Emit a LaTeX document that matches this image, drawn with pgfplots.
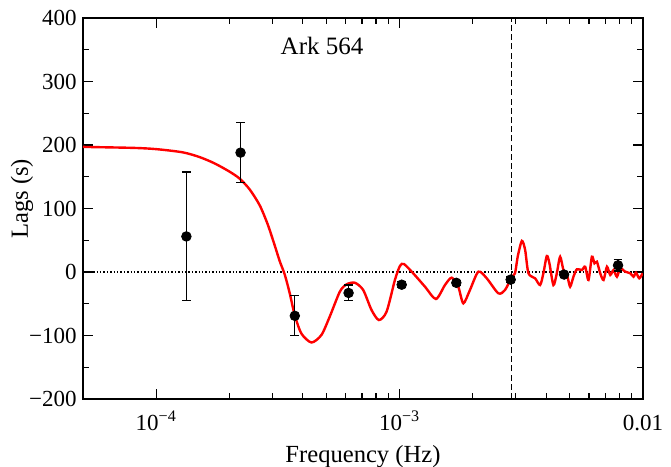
\documentclass[border=0pt]{standalone}
\usepackage{pgfplots}
\pgfplotsset{compat=1.18}
\usepackage{fontspec}
\setmainfont{Liberation Serif}
\begin{document}
\begin{tikzpicture}
\useasboundingbox (-41.5pt,-34pt) rectangle (294pt,199.5pt);
\begin{axis}[
  at={(0,0)}, anchor=south west,
  scale only axis, width=280pt, height=190.5pt,
  xmode=log, xmin=5e-5, xmax=0.01,
  ymin=-200, ymax=400,
  xtick={1e-4,1e-3,1e-2},
  xticklabels={10\textsuperscript{−4},10\textsuperscript{−3},0.01},
  ytick={-200,-100,0,100,200,300,400},
  yticklabels={−200,−100,0,100,200,300,400},
  minor ytick={-150,-50,50,150,250,350},
  tick align=inside,
  major tick length=5pt, minor tick length=3pt,
  every tick/.style={black, line width=0.6pt},
  axis line style={line width=0.8pt},
  xticklabel style={font=\fontsize{11.5}{13}\selectfont, anchor=base, yshift=-15.5pt, inner sep=0pt},
  yticklabel style={font=\fontsize{11.5}{13}\selectfont, anchor=east, inner sep=0pt, xshift=-3pt},
  xlabel={Frequency (Hz)}, ylabel={Lags (s)},
  xlabel style={font=\fontsize{12.3}{14}\selectfont, at={(axis description cs:0.5,0)}, anchor=base, yshift=-31.5pt},
  ylabel style={font=\fontsize{12.3}{14}\selectfont, at={(axis description cs:-0.109,0.525)}, anchor=center},
  clip=true,
]
\addplot[black, densely dotted, line width=0.7pt, forget plot] coordinates {(5e-5,0) (0.01,0)};
\addplot[black, dash pattern=on 3pt off 1.6pt, line width=0.7pt, forget plot] coordinates {(2.88e-3,-200) (2.88e-3,400)};
\addplot[red, line width=1.2pt, smooth, tension=0.45] coordinates {
(5.0e-5,197) (8.0e-5,195.5) (1.0e-4,193.5) (1.283e-4,188.5) (1.507e-4,181) (1.738e-4,171) (2.002e-4,158)
(2.202e-4,147) (2.421e-4,130) (2.662e-4,105) (2.871e-4,75) (3.067e-4,42) (3.217e-4,17)
(3.373e-4,-4) (3.536e-4,-33.5) (3.708e-4,-68) (3.951e-4,-97) (4.344e-4,-111) (4.775e-4,-99)
(5.166e-4,-70) (5.68e-4,-31) (6.05e-4,-19.5) (6.546e-4,-16.9) (7.085e-4,-28.3) (7.667e-4,-59.8) (8.22e-4,-75.6)
(8.84e-4,-62.5) (9.565e-4,-12.6) (1.0028e-3,9.4) (1.0415e-3,12.6) (1.137e-3,-2)
(1.271e-3,-23.1) (1.41e-3,-42.5) (1.536e-3,-20.5) (1.637e-3,-9) (1.742e-3,-23.1)
(1.827e-3,-49.3) (1.946e-3,-28.3) (2.106e-3,0.5) (2.28e-3,-9.9) (2.544e-3,-33.5)
(2.712e-3,-28.3) (2.89e-3,-7.4) (2.98e-3,-2) (3.06e-3,25) (3.18e-3,49)
(3.28e-3,34.6) (3.384e-3,-2) (3.603e-3,-9.9) (3.778e-3,-20.5) (3.898e-3,-2)
(4.025e-3,25.2) (4.126e-3,13.7) (4.285e-3,-20.5) (4.425e-3,-2) (4.566e-3,24.1)
(4.711e-3,3.1) (4.893e-3,-7.4) (5.02e-3,-23.1) (5.181e-3,-7.4) (5.35e-3,4.3)
(5.61e-3,3.1) (5.789e-3,8.3) (5.972e-3,-12.6) (6.167e-3,24.1) (6.321e-3,13.7)
(6.467e-3,16.2) (6.673e-3,-2) (6.885e-3,-12.6) (7.111e-3,8.3) (7.336e-3,-4.7)
(7.568e-3,3.1) (7.816e-3,-7.4) (8.065e-3,5.8) (8.456e-3,0.5) (8.867e-3,-2)
(9.149e-3,-7.4) (9.358e-3,-1) (9.656e-3,-9.9) (9.963e-3,-2)
};
\addplot[black, only marks, mark=*, mark size=2.4pt,
  error bars/.cd, y dir=both, y explicit,
  error bar style={line width=0.6pt},
  error mark options={rotate=90, mark size=2.2pt, line width=0.6pt}]
  coordinates {
  (1.33e-4,56) +- (0,101.5)
  (2.22e-4,188) +- (0,47)
  (3.71e-4,-69) +- (0,31.5)
  (6.17e-4,-33) +- (0,12.5)
  (1.02e-3,-20) +- (0,5)
  (1.71e-3,-17) +- (0,4)
  (2.86e-3,-12) +- (0,4)
  (4.74e-3,-4) +- (0,5)
  (7.9e-3,10.5) +- (0,9)
  };
\node[font=\fontsize{12.5}{14}\selectfont] at (axis cs:4.8e-4,356) {Ark 564};
\end{axis}
\end{tikzpicture}
\end{document}
